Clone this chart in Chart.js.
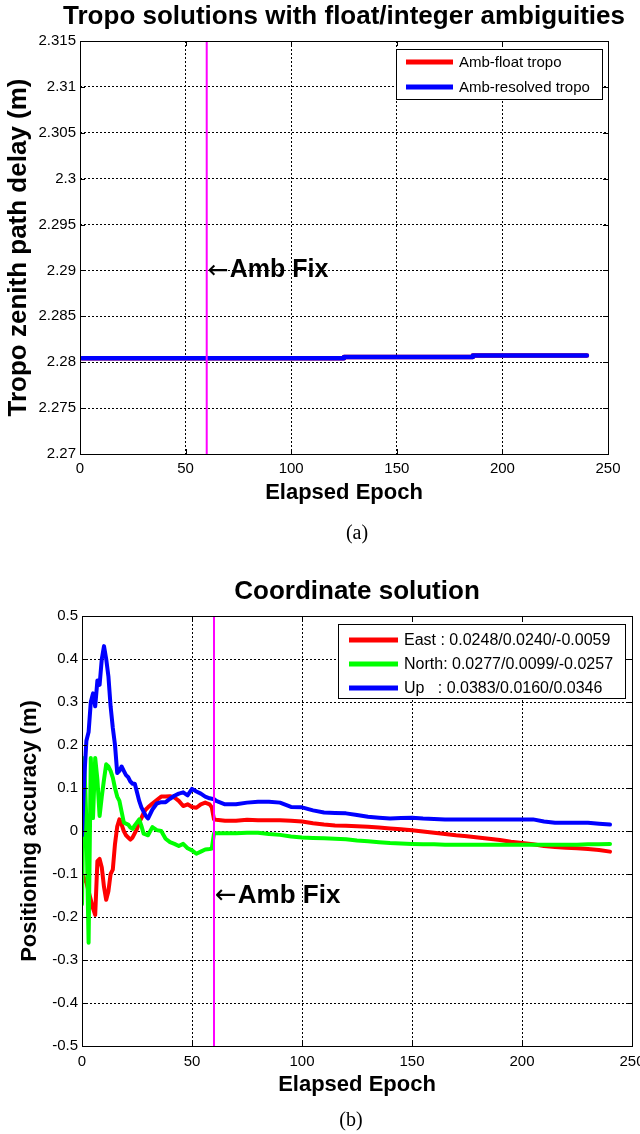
<!DOCTYPE html>
<html>
<head>
<meta charset="utf-8">
<script src="https://cdn.jsdelivr.net/npm/chart.js@4.4.0/dist/chart.umd.min.js"></script>
<style>
  body { margin: 0; background: #fff; }
  .wrap { position: absolute; left: 0; width: 640px; }
  .cap { position: absolute; font: 20px "Liberation Serif", "Times New Roman", serif; transform: translate(-50%, -50%); }
</style>
</head>
<body>
<div class="wrap" style="top:0;height:560px"><canvas id="tropoChart" width="640" height="560"></canvas></div>
<div class="wrap" style="top:560px;height:574px"><canvas id="coordChart" width="640" height="574"></canvas></div>
<div class="cap" style="left:357px;top:532px">(a)</div>
<div class="cap" style="left:351px;top:1119px">(b)</div>
<script>
// ---- data ----
const ambFixEpoch = 60;
const epochTicks = [0, 50, 100, 150, 200, 250];

// (a) tropo
const tropoEpochs = [1, 125, 186, 240];
const floatTropo = [2.28043, 2.28058, 2.28072, 2.28072];
const resolvedTropo = [2.28043, 2.28058, 2.28072, 2.28072];
const tropoTicks = [2.27, 2.275, 2.28, 2.285, 2.29, 2.295, 2.3, 2.305, 2.31, 2.315];

// (b) coordinates
const coordEpochs = [
  0, 1, 2, 3, 4, 5, 6, 7, 8, 9,
  10, 11, 12, 13, 14, 15, 16, 17, 18, 19,
  20, 21, 22, 23, 24, 25, 26, 27, 28, 29,
  30, 32, 34, 36, 38, 40, 42, 44, 46, 48,
  50, 52, 54, 56, 58, 59, 60, 61, 65, 70,
  75, 80, 85, 90, 95, 100, 105, 110, 115, 120,
  125, 130, 135, 140, 145, 150, 155, 160, 165, 170,
  175, 180, 185, 190, 195, 200, 205, 210, 215, 220,
  225, 230, 235, 240
];
const east = [
  -0.10, -0.11, -0.12, -0.14, -0.16, -0.18, -0.195, -0.07, -0.065, -0.085,
  -0.13, -0.16, -0.14, -0.10, -0.09, -0.03, 0.01, 0.027, 0.015, 0.0,
  -0.01, -0.015, -0.02, -0.015, -0.005, 0.005, 0.02, 0.03, 0.042, 0.05,
  0.055, 0.064, 0.072, 0.08, 0.08, 0.081, 0.078, 0.07, 0.058, 0.062,
  0.056, 0.054, 0.062, 0.066, 0.062, 0.055, 0.027, 0.026, 0.024, 0.024,
  0.026, 0.025, 0.025, 0.025, 0.024, 0.022, 0.018, 0.015, 0.013, 0.012,
  0.011, 0.010, 0.008, 0.006, 0.004, 0.002, -0.001, -0.004, -0.007, -0.010,
  -0.012, -0.015, -0.018, -0.021, -0.025, -0.028, -0.031, -0.035, -0.037, -0.039,
  -0.040, -0.042, -0.044, -0.048
];
const north = [
  -0.17, 0.17, 0.02, -0.26, 0.17, 0.03, 0.17, 0.12, 0.035, 0.08,
  0.12, 0.155, 0.15, 0.14, 0.124, 0.10, 0.08, 0.07, 0.045, 0.02,
  0.017, 0.015, 0.008, 0.005, 0.013, 0.02, 0.027, 0.012, -0.006, -0.008,
  -0.01, 0.009, 0.002, 0.0, -0.018, -0.026, -0.03, -0.035, -0.03, -0.04,
  -0.045, -0.053, -0.048, -0.043, -0.042, -0.041, -0.006, -0.005, -0.005, -0.005,
  -0.004, -0.004, -0.007, -0.009, -0.013, -0.015, -0.016, -0.017, -0.018, -0.019,
  -0.022, -0.024, -0.026, -0.028, -0.029, -0.030, -0.031, -0.031, -0.032, -0.032,
  -0.032, -0.032, -0.032, -0.032, -0.032, -0.032, -0.032, -0.032, -0.032, -0.032,
  -0.032, -0.031, -0.031, -0.030
];
const up = [
  -0.01, 0.12, 0.21, 0.23, 0.30, 0.32, 0.29, 0.35, 0.34, 0.40,
  0.43, 0.40, 0.36, 0.29, 0.24, 0.20, 0.135, 0.14, 0.15, 0.14,
  0.13, 0.125, 0.115, 0.11, 0.11, 0.09, 0.07, 0.055, 0.045, 0.035,
  0.029, 0.05, 0.064, 0.067, 0.067, 0.075, 0.082, 0.087, 0.09, 0.083,
  0.098, 0.092, 0.087, 0.08, 0.076, 0.075, 0.074, 0.07, 0.062, 0.062,
  0.066, 0.068, 0.068, 0.066, 0.056, 0.055, 0.048, 0.043, 0.042, 0.041,
  0.037, 0.033, 0.031, 0.029, 0.030, 0.031, 0.029, 0.028, 0.027, 0.027,
  0.027, 0.027, 0.027, 0.027, 0.027, 0.027, 0.027, 0.022, 0.019, 0.019,
  0.019, 0.019, 0.017, 0.015
];
const coordTicks = [-0.5, -0.4, -0.3, -0.2, -0.1, 0, 0.1, 0.2, 0.3, 0.4, 0.5];

const FONT = '"Liberation Sans", Arial, Helvetica, sans-serif';
Chart.defaults.font.family = FONT;
Chart.defaults.color = '#000';

function pts(xs, ys) {
  return xs.map((x, i) => ({ x: x, y: ys[i] }));
}

// MATLAB-like decorations: title, boxed legend, annotation, axes box with inward ticks
const matlabAxes = {
  id: 'matlabAxes',
  afterDatasetsDraw(chart, args, o) {
    const c = chart.ctx;
    const a = chart.chartArea;
    const xs = chart.scales.x, ys = chart.scales.y;
    c.save();

    // title
    c.fillStyle = '#000';
    c.font = 'bold ' + o.titleSize + 'px ' + FONT;
    c.textAlign = 'center';
    c.textBaseline = 'middle';
    c.fillText(o.title, (a.left + a.right) / 2, o.titleY);

    // annotation: thin arrow then bold text
    const fx = xs.getPixelForValue(ambFixEpoch) + 1;
    const fy = ys.getPixelForValue(o.fixY);
    c.textAlign = 'left';
    c.font = o.fixSize + 'px "DejaVu Sans", sans-serif';
    c.fillText('\u2190', fx, fy + 1);
    const aw = c.measureText('\u2190').width;
    c.font = 'bold ' + o.fixSize + 'px ' + FONT;
    c.fillText('Amb Fix', fx + aw + 1, fy);

    // legend
    const L = o.legend;
    const lx = a.right - L.right - L.width, ly = a.top + L.top;
    c.fillStyle = '#fff';
    c.fillRect(lx, ly, L.width, L.height);
    c.strokeStyle = '#000';
    c.lineWidth = 1;
    c.strokeRect(Math.round(lx) + 0.5, Math.round(ly) + 0.5, L.width, L.height);
    c.font = L.size + 'px ' + FONT;
    let row = 0;
    chart.data.datasets.forEach(ds => {
      if (!ds.label) return;
      const yy = ly + L.first + row * L.step;
      c.beginPath();
      c.strokeStyle = ds.borderColor;
      c.lineWidth = 5;
      c.moveTo(lx + L.s0, yy);
      c.lineTo(lx + L.s1, yy);
      c.stroke();
      c.fillStyle = '#000';
      c.fillText(ds.label, lx + L.text, yy + 1);
      row++;
    });

    // axes box + inward ticks
    c.strokeStyle = '#000';
    c.lineWidth = 1;
    c.strokeRect(Math.round(a.left) + 0.5, Math.round(a.top) + 0.5, Math.round(a.width), Math.round(a.height));
    c.beginPath();
    xs.ticks.forEach(t => {
      const px = Math.round(xs.getPixelForValue(t.value)) + 0.5;
      c.moveTo(px, a.bottom); c.lineTo(px, a.bottom - 5);
      c.moveTo(px, a.top); c.lineTo(px, a.top + 5);
    });
    ys.ticks.forEach(t => {
      const py = Math.round(ys.getPixelForValue(t.value)) + 0.5;
      c.moveTo(a.left, py); c.lineTo(a.left + 5, py);
      c.moveTo(a.right, py); c.lineTo(a.right - 5, py);
    });
    c.stroke();
    c.restore();
  }
};

function axes(ticksArr, min, max, fmt, yTitle, yTitleSize, yTitlePad, yWidth, xTitlePad, xHeight, labelPad) {
  const grid = { color: '#000', lineWidth: 1, drawTicks: false };
  const border = { display: false, dash: [2, 2] };
  return {
    x: {
      type: 'linear', min: 0, max: 250,
      grid: grid, border: border,
      afterBuildTicks: s => { s.ticks = epochTicks.map(v => ({ value: v })); },
      afterFit: s => { s.height = xHeight; s.paddingLeft = 0; s.paddingRight = 0; },
      ticks: { font: { size: 15 }, color: '#000', padding: labelPad, maxRotation: 0, autoSkip: false },
      title: { display: true, text: 'Elapsed Epoch', color: '#000',
               font: { size: 22, weight: 'bold' }, padding: { top: 0, bottom: xTitlePad } }
    },
    y: {
      type: 'linear', min: min, max: max,
      grid: grid, border: border,
      afterBuildTicks: s => { s.ticks = ticksArr.map(v => ({ value: v })); },
      afterFit: s => { s.width = yWidth; s.paddingTop = 0; s.paddingBottom = 0; },
      ticks: { font: { size: 15 }, color: '#000', padding: 4, autoSkip: false, callback: fmt },
      title: { display: true, text: yTitle, color: '#000',
               font: { size: yTitleSize, weight: 'bold' }, padding: { top: yTitlePad, bottom: 0 } }
    }
  };
}

const lineStyle = { pointRadius: 0, tension: 0, borderJoinStyle: 'round', borderCapStyle: 'round', fill: false };

new Chart(document.getElementById('tropoChart'), {
  type: 'line',
  data: {
    datasets: [
      Object.assign({ label: 'Amb-float tropo', data: pts(tropoEpochs, floatTropo), borderColor: '#ff0000',
                      borderWidth: 4.5, stepped: 'before', order: 2 }, lineStyle),
      Object.assign({ label: 'Amb-resolved tropo', data: pts(tropoEpochs, resolvedTropo), borderColor: '#0000ff',
                      borderWidth: 4.5, stepped: 'before', order: 1 }, lineStyle),
      Object.assign({ label: '', data: pts([ambFixEpoch, ambFixEpoch], [tropoTicks[0], tropoTicks[tropoTicks.length - 1]]),
                      borderColor: '#ff00ff', borderWidth: 2, order: 0 }, lineStyle)
    ]
  },
  options: {
    responsive: false,
    animation: false,
    layout: { padding: { top: 41, right: 32, left: 0, bottom: 0 } },
    plugins: {
      legend: { display: false },
      tooltip: { enabled: false },
      matlabAxes: {
        title: 'Tropo solutions with float/integer ambiguities', titleSize: 26, titleY: 17,
        fixSize: 25, fixY: 2.29,
        legend: { right: 6, top: 8, width: 206, height: 50, first: 13, step: 25, s0: 10, s1: 57, text: 63, size: 15 }
      }
    },
    scales: axes(tropoTicks, 2.27, 2.315, v => String(+v.toFixed(3)),
                 'Tropo zenith path delay (m)', 26, 3, 80, 54, 106, 6)
  },
  plugins: [matlabAxes]
});

new Chart(document.getElementById('coordChart'), {
  type: 'line',
  data: {
    datasets: [
      Object.assign({ label: 'East : 0.0248/0.0240/-0.0059', data: pts(coordEpochs, east), borderColor: '#ff0000',
                      borderWidth: 4, order: 3 }, lineStyle),
      Object.assign({ label: 'North: 0.0277/0.0099/-0.0257', data: pts(coordEpochs, north), borderColor: '#00ff00',
                      borderWidth: 4, order: 2 }, lineStyle),
      Object.assign({ label: 'Up   : 0.0383/0.0160/0.0346', data: pts(coordEpochs, up), borderColor: '#0000ff',
                      borderWidth: 4, order: 1 }, lineStyle),
      Object.assign({ label: '', data: pts([ambFixEpoch, ambFixEpoch], [coordTicks[0], coordTicks[coordTicks.length - 1]]),
                      borderColor: '#ff00ff', borderWidth: 2, order: 0 }, lineStyle)
    ]
  },
  options: {
    responsive: false,
    animation: false,
    layout: { padding: { top: 56, right: 8, left: 0, bottom: 0 } },
    plugins: {
      legend: { display: false },
      tooltip: { enabled: false },
      matlabAxes: {
        title: 'Coordinate solution', titleSize: 26, titleY: 32,
        fixSize: 26, fixY: -0.15,
        legend: { right: 7, top: 8, width: 287, height: 74, first: 16, step: 24, s0: 11, s1: 60, text: 66, size: 16 }
      }
    },
    scales: axes(coordTicks, -0.5, 0.5, v => String(+v.toFixed(1)),
                 'Positioning accuracy (m)', 22, 17, 82, 36, 88, 7)
  },
  plugins: [matlabAxes]
});
</script>
</body>
</html>
